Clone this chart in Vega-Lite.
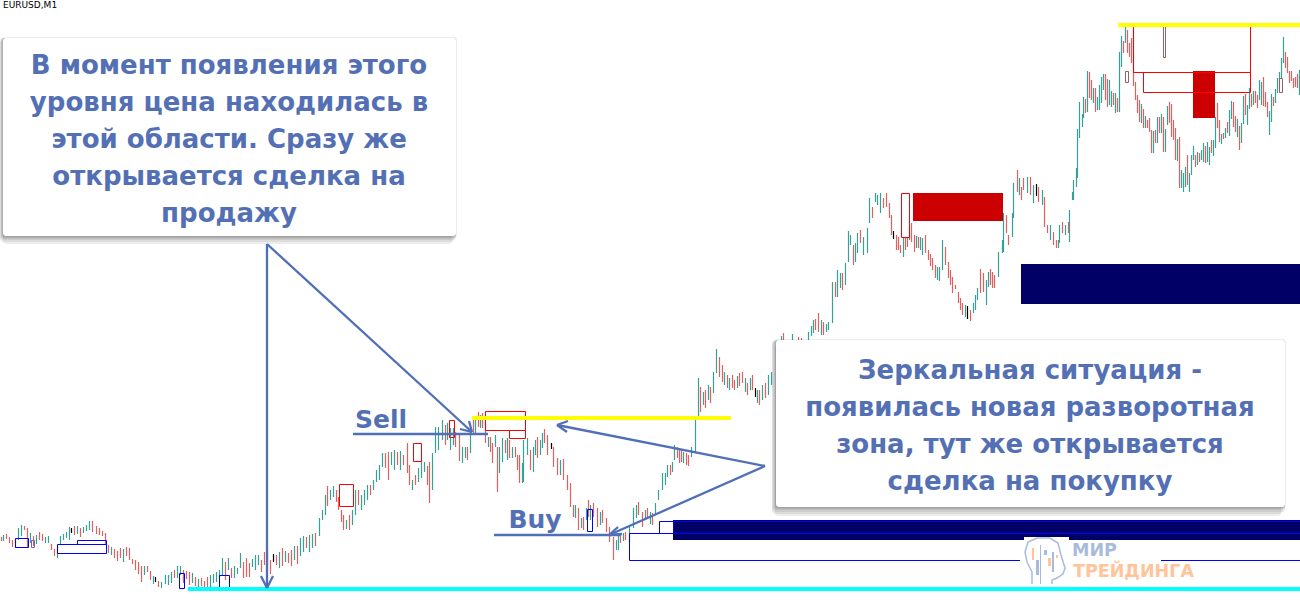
{"$schema":"https://vega.github.io/schema/vega-lite/v6.json","width":1300,"height":600,"padding":0,"autosize":{"type":"none"},"background":"white","view":{"stroke":null},"config":{"view":{"stroke":null}},
"resolve":{"scale":{"color":"independent","fill":"independent","stroke":"independent"}},
"datasets":{
"bars":[
{"x":1,"y":537,"y2":541,"d":"d"},{"x":3,"y":535,"y2":541,"d":"u"},{"x":6,"y":534,"y2":539,"d":"d"},{"x":9,"y":537,"y2":543,"d":"d"},{"x":12,"y":540,"y2":547,"d":"d"},{"x":15,"y":539,"y2":548,"d":"u"},{"x":18,"y":528,"y2":540,"d":"u"},{"x":21,"y":525,"y2":536,"d":"u"},{"x":24,"y":526,"y2":530,"d":"d"},{"x":27,"y":528,"y2":547,"d":"d"},{"x":30,"y":533,"y2":543,"d":"u"},{"x":33,"y":536,"y2":546,"d":"d"},{"x":36,"y":535,"y2":544,"d":"u"},{"x":39,"y":532,"y2":540,"d":"d"},{"x":42,"y":534,"y2":541,"d":"d"},{"x":45,"y":537,"y2":543,"d":"u"},{"x":48,"y":536,"y2":543,"d":"u"},{"x":51,"y":544,"y2":550,"d":"d"},{"x":54,"y":549,"y2":556,"d":"d"},{"x":57,"y":545,"y2":558,"d":"u"},{"x":60,"y":536,"y2":545,"d":"u"},{"x":63,"y":534,"y2":540,"d":"u"},{"x":66,"y":532,"y2":538,"d":"u"},{"x":69,"y":527,"y2":540,"d":"u"},{"x":71,"y":528,"y2":533,"d":"b"},{"x":74,"y":526,"y2":535,"d":"d"},{"x":77,"y":526,"y2":534,"d":"u"},{"x":80,"y":528,"y2":537,"d":"d"},{"x":83,"y":527,"y2":533,"d":"u"},{"x":86,"y":525,"y2":531,"d":"u"},{"x":89,"y":521,"y2":530,"d":"u"},{"x":92,"y":521,"y2":532,"d":"d"},{"x":96,"y":526,"y2":534,"d":"d"},{"x":99,"y":528,"y2":535,"d":"d"},{"x":102,"y":531,"y2":536,"d":"d"},{"x":105,"y":533,"y2":545,"d":"d"},{"x":108,"y":545,"y2":553,"d":"d"},{"x":111,"y":547,"y2":555,"d":"u"},{"x":114,"y":549,"y2":558,"d":"d"},{"x":117,"y":551,"y2":561,"d":"d"},{"x":120,"y":548,"y2":558,"d":"d"},{"x":123,"y":549,"y2":562,"d":"u"},{"x":126,"y":547,"y2":556,"d":"d"},{"x":129,"y":548,"y2":560,"d":"d"},{"x":132,"y":559,"y2":564,"d":"d"},{"x":135,"y":560,"y2":570,"d":"d"},{"x":138,"y":562,"y2":574,"d":"d"},{"x":141,"y":566,"y2":582,"d":"d"},{"x":144,"y":566,"y2":575,"d":"u"},{"x":147,"y":566,"y2":572,"d":"d"},{"x":150,"y":571,"y2":580,"d":"d"},{"x":153,"y":576,"y2":584,"d":"u"},{"x":155,"y":577,"y2":582,"d":"b"},{"x":158,"y":581,"y2":587,"d":"d"},{"x":161,"y":582,"y2":588,"d":"u"},{"x":165,"y":575,"y2":584,"d":"u"},{"x":168,"y":575,"y2":585,"d":"u"},{"x":171,"y":572,"y2":583,"d":"u"},{"x":174,"y":570,"y2":578,"d":"d"},{"x":177,"y":566,"y2":578,"d":"u"},{"x":180,"y":566,"y2":575,"d":"u"},{"x":183,"y":570,"y2":583,"d":"d"},{"x":186,"y":571,"y2":579,"d":"d"},{"x":189,"y":572,"y2":585,"d":"d"},{"x":192,"y":573,"y2":583,"d":"u"},{"x":195,"y":577,"y2":586,"d":"d"},{"x":198,"y":579,"y2":587,"d":"u"},{"x":201,"y":578,"y2":586,"d":"d"},{"x":204,"y":581,"y2":588,"d":"d"},{"x":207,"y":577,"y2":590,"d":"d"},{"x":210,"y":575,"y2":590,"d":"u"},{"x":213,"y":574,"y2":583,"d":"u"},{"x":216,"y":572,"y2":582,"d":"u"},{"x":219,"y":570,"y2":578,"d":"u"},{"x":222,"y":558,"y2":575,"d":"u"},{"x":225,"y":562,"y2":580,"d":"d"},{"x":228,"y":558,"y2":570,"d":"u"},{"x":231,"y":568,"y2":578,"d":"d"},{"x":234,"y":566,"y2":578,"d":"u"},{"x":237,"y":568,"y2":574,"d":"u"},{"x":240,"y":553,"y2":568,"d":"u"},{"x":243,"y":562,"y2":578,"d":"d"},{"x":246,"y":558,"y2":577,"d":"d"},{"x":249,"y":563,"y2":577,"d":"d"},{"x":252,"y":559,"y2":567,"d":"u"},{"x":255,"y":555,"y2":570,"d":"u"},{"x":258,"y":555,"y2":565,"d":"u"},{"x":261,"y":560,"y2":572,"d":"d"},{"x":264,"y":552,"y2":565,"d":"d"},{"x":267,"y":551,"y2":565,"d":"u"},{"x":270,"y":560,"y2":574,"d":"d"},{"x":273,"y":554,"y2":562,"d":"b"},{"x":276,"y":555,"y2":565,"d":"d"},{"x":279,"y":552,"y2":568,"d":"u"},{"x":282,"y":548,"y2":566,"d":"d"},{"x":285,"y":551,"y2":562,"d":"u"},{"x":288,"y":553,"y2":563,"d":"d"},{"x":291,"y":550,"y2":566,"d":"d"},{"x":294,"y":546,"y2":560,"d":"u"},{"x":297,"y":546,"y2":564,"d":"d"},{"x":300,"y":538,"y2":556,"d":"u"},{"x":303,"y":536,"y2":552,"d":"u"},{"x":306,"y":537,"y2":548,"d":"d"},{"x":309,"y":535,"y2":552,"d":"u"},{"x":312,"y":534,"y2":548,"d":"u"},{"x":315,"y":533,"y2":546,"d":"d"},{"x":319,"y":518,"y2":536,"d":"u"},{"x":322,"y":510,"y2":520,"d":"u"},{"x":325,"y":495,"y2":515,"d":"u"},{"x":327,"y":486,"y2":506,"d":"d"},{"x":330,"y":490,"y2":500,"d":"u"},{"x":333,"y":486,"y2":497,"d":"u"},{"x":336,"y":490,"y2":502,"d":"d"},{"x":338,"y":497,"y2":510,"d":"d"},{"x":341,"y":510,"y2":522,"d":"d"},{"x":343,"y":515,"y2":530,"d":"d"},{"x":346,"y":520,"y2":529,"d":"u"},{"x":349,"y":515,"y2":530,"d":"d"},{"x":352,"y":510,"y2":525,"d":"u"},{"x":355,"y":490,"y2":515,"d":"u"},{"x":358,"y":490,"y2":505,"d":"d"},{"x":361,"y":495,"y2":510,"d":"u"},{"x":364,"y":490,"y2":505,"d":"u"},{"x":367,"y":485,"y2":500,"d":"u"},{"x":370,"y":485,"y2":495,"d":"d"},{"x":373,"y":480,"y2":490,"d":"u"},{"x":376,"y":470,"y2":482,"d":"u"},{"x":379,"y":465,"y2":480,"d":"u"},{"x":382,"y":453,"y2":467,"d":"u"},{"x":385,"y":453,"y2":468,"d":"d"},{"x":388,"y":452,"y2":480,"d":"d"},{"x":391,"y":452,"y2":465,"d":"u"},{"x":394,"y":450,"y2":470,"d":"u"},{"x":397,"y":452,"y2":465,"d":"d"},{"x":400,"y":451,"y2":470,"d":"u"},{"x":403,"y":455,"y2":465,"d":"d"},{"x":407,"y":443,"y2":473,"d":"d"},{"x":409,"y":465,"y2":485,"d":"d"},{"x":412,"y":480,"y2":490,"d":"u"},{"x":415,"y":475,"y2":485,"d":"d"},{"x":418,"y":468,"y2":482,"d":"u"},{"x":421,"y":460,"y2":478,"d":"u"},{"x":424,"y":462,"y2":472,"d":"u"},{"x":427,"y":466,"y2":485,"d":"d"},{"x":429,"y":462,"y2":503,"d":"d"},{"x":432,"y":453,"y2":490,"d":"u"},{"x":435,"y":427,"y2":453,"d":"u"},{"x":438,"y":427,"y2":450,"d":"u"},{"x":442,"y":420,"y2":440,"d":"u"},{"x":445,"y":425,"y2":445,"d":"d"},{"x":447,"y":423,"y2":440,"d":"u"},{"x":450,"y":428,"y2":450,"d":"u"},{"x":453,"y":428,"y2":445,"d":"u"},{"x":455,"y":432,"y2":447,"d":"d"},{"x":459,"y":433,"y2":461,"d":"d"},{"x":462,"y":447,"y2":463,"d":"u"},{"x":465,"y":447,"y2":458,"d":"u"},{"x":467,"y":447,"y2":460,"d":"d"},{"x":470,"y":430,"y2":453,"d":"u"},{"x":473,"y":417,"y2":433,"d":"d"},{"x":475,"y":420,"y2":433,"d":"u"},{"x":478,"y":412,"y2":427,"d":"d"},{"x":480,"y":415,"y2":428,"d":"u"},{"x":482,"y":413,"y2":428,"d":"d"},{"x":485,"y":417,"y2":443,"d":"d"},{"x":488,"y":437,"y2":447,"d":"u"},{"x":490,"y":437,"y2":452,"d":"d"},{"x":492,"y":443,"y2":463,"d":"d"},{"x":495,"y":435,"y2":447,"d":"u"},{"x":497,"y":447,"y2":492,"d":"d"},{"x":499,"y":447,"y2":473,"d":"u"},{"x":502,"y":438,"y2":462,"d":"u"},{"x":505,"y":440,"y2":453,"d":"d"},{"x":507,"y":438,"y2":460,"d":"u"},{"x":509,"y":440,"y2":458,"d":"d"},{"x":512,"y":447,"y2":458,"d":"u"},{"x":515,"y":447,"y2":457,"d":"d"},{"x":517,"y":455,"y2":470,"d":"d"},{"x":519,"y":455,"y2":483,"d":"d"},{"x":522,"y":463,"y2":483,"d":"u"},{"x":523,"y":440,"y2":482,"d":"u"},{"x":527,"y":438,"y2":455,"d":"u"},{"x":530,"y":450,"y2":470,"d":"d"},{"x":533,"y":447,"y2":472,"d":"u"},{"x":535,"y":440,"y2":455,"d":"u"},{"x":537,"y":437,"y2":458,"d":"d"},{"x":540,"y":440,"y2":455,"d":"u"},{"x":542,"y":433,"y2":448,"d":"u"},{"x":544,"y":429,"y2":443,"d":"d"},{"x":547,"y":435,"y2":455,"d":"d"},{"x":551,"y":443,"y2":449,"d":"b"},{"x":553,"y":447,"y2":467,"d":"d"},{"x":557,"y":458,"y2":475,"d":"d"},{"x":560,"y":460,"y2":475,"d":"u"},{"x":563,"y":459,"y2":480,"d":"d"},{"x":567,"y":475,"y2":490,"d":"d"},{"x":570,"y":483,"y2":507,"d":"d"},{"x":573,"y":505,"y2":517,"d":"d"},{"x":575,"y":505,"y2":518,"d":"u"},{"x":578,"y":508,"y2":530,"d":"d"},{"x":581,"y":518,"y2":528,"d":"u"},{"x":583,"y":517,"y2":530,"d":"d"},{"x":586,"y":508,"y2":520,"d":"u"},{"x":588,"y":500,"y2":517,"d":"d"},{"x":590,"y":505,"y2":520,"d":"u"},{"x":593,"y":503,"y2":517,"d":"d"},{"x":597,"y":508,"y2":527,"d":"d"},{"x":600,"y":512,"y2":525,"d":"u"},{"x":602,"y":510,"y2":523,"d":"d"},{"x":606,"y":518,"y2":532,"d":"d"},{"x":609,"y":527,"y2":542,"d":"d"},{"x":613,"y":537,"y2":560,"d":"d"},{"x":616,"y":540,"y2":550,"d":"u"},{"x":618,"y":535,"y2":550,"d":"u"},{"x":620,"y":533,"y2":543,"d":"d"},{"x":623,"y":533,"y2":541,"d":"u"},{"x":625,"y":532,"y2":540,"d":"d"},{"x":629,"y":527,"y2":542,"d":"u"},{"x":633,"y":508,"y2":528,"d":"u"},{"x":636,"y":505,"y2":518,"d":"u"},{"x":638,"y":502,"y2":515,"d":"d"},{"x":642,"y":512,"y2":527,"d":"d"},{"x":645,"y":510,"y2":520,"d":"u"},{"x":647,"y":508,"y2":517,"d":"d"},{"x":650,"y":512,"y2":524,"d":"u"},{"x":652,"y":513,"y2":525,"d":"d"},{"x":655,"y":503,"y2":515,"d":"u"},{"x":658,"y":490,"y2":500,"d":"u"},{"x":662,"y":473,"y2":490,"d":"u"},{"x":665,"y":473,"y2":485,"d":"u"},{"x":667,"y":465,"y2":477,"d":"u"},{"x":670,"y":465,"y2":475,"d":"d"},{"x":672,"y":462,"y2":472,"d":"u"},{"x":674,"y":445,"y2":460,"d":"u"},{"x":677,"y":447,"y2":458,"d":"d"},{"x":679,"y":449,"y2":463,"d":"d"},{"x":681,"y":450,"y2":462,"d":"d"},{"x":683,"y":452,"y2":463,"d":"u"},{"x":686,"y":453,"y2":465,"d":"d"},{"x":688,"y":455,"y2":466,"d":"d"},{"x":691,"y":447,"y2":457,"d":"u"},{"x":695,"y":420,"y2":452,"d":"u"},{"x":698,"y":378,"y2":420,"d":"u"},{"x":700,"y":387,"y2":412,"d":"d"},{"x":703,"y":392,"y2":405,"d":"u"},{"x":705,"y":390,"y2":408,"d":"d"},{"x":708,"y":385,"y2":400,"d":"u"},{"x":710,"y":387,"y2":403,"d":"d"},{"x":713,"y":372,"y2":393,"d":"u"},{"x":716,"y":349,"y2":373,"d":"u"},{"x":719,"y":357,"y2":377,"d":"d"},{"x":722,"y":365,"y2":382,"d":"d"},{"x":724,"y":372,"y2":385,"d":"u"},{"x":727,"y":375,"y2":388,"d":"d"},{"x":729,"y":378,"y2":390,"d":"u"},{"x":732,"y":375,"y2":388,"d":"d"},{"x":734,"y":380,"y2":390,"d":"d"},{"x":737,"y":376,"y2":388,"d":"u"},{"x":739,"y":373,"y2":386,"d":"d"},{"x":742,"y":372,"y2":383,"d":"d"},{"x":745,"y":378,"y2":392,"d":"u"},{"x":747,"y":383,"y2":395,"d":"d"},{"x":750,"y":378,"y2":390,"d":"u"},{"x":752,"y":375,"y2":390,"d":"d"},{"x":755,"y":388,"y2":397,"d":"b"},{"x":757,"y":390,"y2":403,"d":"u"},{"x":759,"y":390,"y2":405,"d":"d"},{"x":762,"y":385,"y2":400,"d":"u"},{"x":765,"y":383,"y2":398,"d":"d"},{"x":768,"y":375,"y2":395,"d":"u"},{"x":771,"y":372,"y2":385,"d":"u"},{"x":781,"y":336,"y2":342,"d":"u"},{"x":783,"y":333,"y2":342,"d":"d"},{"x":792,"y":334,"y2":342,"d":"u"},{"x":798,"y":337,"y2":342,"d":"d"},{"x":801,"y":338,"y2":342,"d":"d"},{"x":808,"y":332,"y2":340,"d":"u"},{"x":811,"y":326,"y2":336,"d":"u"},{"x":813,"y":320,"y2":333,"d":"u"},{"x":815,"y":319,"y2":330,"d":"d"},{"x":818,"y":313,"y2":332,"d":"d"},{"x":821,"y":320,"y2":335,"d":"u"},{"x":823,"y":322,"y2":335,"d":"d"},{"x":826,"y":324,"y2":332,"d":"u"},{"x":828,"y":322,"y2":330,"d":"u"},{"x":832,"y":282,"y2":323,"d":"u"},{"x":835,"y":282,"y2":297,"d":"d"},{"x":837,"y":270,"y2":297,"d":"u"},{"x":840,"y":273,"y2":288,"d":"u"},{"x":842,"y":273,"y2":290,"d":"d"},{"x":845,"y":263,"y2":285,"d":"u"},{"x":848,"y":231,"y2":262,"d":"u"},{"x":850,"y":235,"y2":245,"d":"u"},{"x":853,"y":245,"y2":265,"d":"d"},{"x":855,"y":243,"y2":262,"d":"u"},{"x":857,"y":233,"y2":253,"d":"u"},{"x":860,"y":230,"y2":243,"d":"d"},{"x":863,"y":237,"y2":255,"d":"u"},{"x":867,"y":228,"y2":253,"d":"u"},{"x":869,"y":198,"y2":223,"d":"u"},{"x":872,"y":207,"y2":218,"d":"d"},{"x":875,"y":193,"y2":202,"d":"u"},{"x":877,"y":195,"y2":205,"d":"u"},{"x":880,"y":193,"y2":213,"d":"u"},{"x":883,"y":198,"y2":208,"d":"d"},{"x":886,"y":193,"y2":207,"d":"d"},{"x":889,"y":203,"y2":218,"d":"d"},{"x":891,"y":215,"y2":235,"d":"d"},{"x":893,"y":231,"y2":239,"d":"b"},{"x":896,"y":235,"y2":250,"d":"d"},{"x":898,"y":237,"y2":250,"d":"d"},{"x":900,"y":245,"y2":253,"d":"d"},{"x":903,"y":237,"y2":257,"d":"u"},{"x":905,"y":237,"y2":250,"d":"d"},{"x":907,"y":237,"y2":247,"d":"d"},{"x":909,"y":225,"y2":240,"d":"u"},{"x":911,"y":223,"y2":242,"d":"d"},{"x":914,"y":235,"y2":252,"d":"d"},{"x":916,"y":236,"y2":248,"d":"u"},{"x":918,"y":237,"y2":248,"d":"d"},{"x":920,"y":237,"y2":250,"d":"u"},{"x":922,"y":238,"y2":255,"d":"u"},{"x":925,"y":235,"y2":253,"d":"d"},{"x":928,"y":250,"y2":260,"d":"d"},{"x":930,"y":254,"y2":266,"d":"d"},{"x":932,"y":258,"y2":270,"d":"d"},{"x":935,"y":265,"y2":278,"d":"d"},{"x":937,"y":267,"y2":280,"d":"u"},{"x":939,"y":267,"y2":281,"d":"u"},{"x":942,"y":240,"y2":270,"d":"u"},{"x":945,"y":247,"y2":265,"d":"d"},{"x":948,"y":262,"y2":278,"d":"d"},{"x":950,"y":270,"y2":285,"d":"d"},{"x":952,"y":277,"y2":293,"d":"d"},{"x":955,"y":285,"y2":289,"d":"d"},{"x":958,"y":292,"y2":303,"d":"d"},{"x":960,"y":298,"y2":310,"d":"d"},{"x":962,"y":303,"y2":315,"d":"d"},{"x":965,"y":305,"y2":317,"d":"u"},{"x":967,"y":306,"y2":319,"d":"b"},{"x":970,"y":310,"y2":321,"d":"d"},{"x":973,"y":303,"y2":313,"d":"u"},{"x":975,"y":295,"y2":310,"d":"u"},{"x":977,"y":288,"y2":300,"d":"u"},{"x":980,"y":269,"y2":293,"d":"d"},{"x":983,"y":273,"y2":292,"d":"d"},{"x":986,"y":280,"y2":305,"d":"u"},{"x":988,"y":272,"y2":287,"d":"u"},{"x":990,"y":269,"y2":285,"d":"d"},{"x":992,"y":272,"y2":288,"d":"d"},{"x":994,"y":275,"y2":288,"d":"d"},{"x":998,"y":252,"y2":277,"d":"u"},{"x":1002,"y":240,"y2":253,"d":"u"},{"x":1003,"y":213,"y2":252,"d":"u"},{"x":1006,"y":215,"y2":233,"d":"d"},{"x":1008,"y":235,"y2":245,"d":"d"},{"x":1012,"y":213,"y2":237,"d":"u"},{"x":1013,"y":183,"y2":218,"d":"u"},{"x":1017,"y":170,"y2":192,"d":"d"},{"x":1019,"y":178,"y2":195,"d":"u"},{"x":1021,"y":187,"y2":200,"d":"d"},{"x":1023,"y":178,"y2":190,"d":"d"},{"x":1027,"y":177,"y2":193,"d":"u"},{"x":1030,"y":177,"y2":195,"d":"d"},{"x":1033,"y":185,"y2":203,"d":"u"},{"x":1036,"y":184,"y2":196,"d":"b"},{"x":1038,"y":187,"y2":202,"d":"d"},{"x":1042,"y":190,"y2":205,"d":"u"},{"x":1044,"y":197,"y2":227,"d":"d"},{"x":1047,"y":225,"y2":233,"d":"d"},{"x":1050,"y":225,"y2":240,"d":"u"},{"x":1053,"y":232,"y2":245,"d":"d"},{"x":1056,"y":240,"y2":248,"d":"d"},{"x":1058,"y":240,"y2":248,"d":"u"},{"x":1059,"y":225,"y2":243,"d":"u"},{"x":1062,"y":222,"y2":233,"d":"d"},{"x":1065,"y":225,"y2":235,"d":"u"},{"x":1068,"y":222,"y2":233,"d":"d"},{"x":1069,"y":210,"y2":242,"d":"u"},{"x":1072,"y":192,"y2":200,"d":"u"},{"x":1073,"y":180,"y2":200,"d":"u"},{"x":1076,"y":168,"y2":187,"d":"u"},{"x":1077,"y":129,"y2":178,"d":"u"},{"x":1079,"y":102,"y2":138,"d":"u"},{"x":1082,"y":114,"y2":127,"d":"u"},{"x":1083,"y":97,"y2":118,"d":"u"},{"x":1085,"y":99,"y2":113,"d":"d"},{"x":1087,"y":71,"y2":112,"d":"u"},{"x":1089,"y":72,"y2":98,"d":"d"},{"x":1091,"y":80,"y2":100,"d":"d"},{"x":1093,"y":88,"y2":103,"d":"u"},{"x":1095,"y":88,"y2":112,"d":"d"},{"x":1097,"y":97,"y2":110,"d":"u"},{"x":1099,"y":85,"y2":110,"d":"u"},{"x":1101,"y":77,"y2":103,"d":"u"},{"x":1103,"y":74,"y2":90,"d":"u"},{"x":1105,"y":74,"y2":100,"d":"d"},{"x":1107,"y":79,"y2":107,"d":"d"},{"x":1109,"y":80,"y2":105,"d":"u"},{"x":1111,"y":91,"y2":107,"d":"u"},{"x":1113,"y":93,"y2":105,"d":"d"},{"x":1115,"y":93,"y2":113,"d":"u"},{"x":1117,"y":98,"y2":112,"d":"d"},{"x":1119,"y":52,"y2":112,"d":"u"},{"x":1121,"y":36,"y2":67,"d":"u"},{"x":1123,"y":41,"y2":53,"d":"d"},{"x":1125,"y":25,"y2":43,"d":"u"},{"x":1127,"y":30,"y2":53,"d":"d"},{"x":1129,"y":43,"y2":57,"d":"d"},{"x":1131,"y":38,"y2":63,"d":"d"},{"x":1133,"y":27,"y2":86,"d":"d"},{"x":1135,"y":82,"y2":100,"d":"d"},{"x":1137,"y":95,"y2":113,"d":"d"},{"x":1139,"y":100,"y2":122,"d":"d"},{"x":1141,"y":104,"y2":123,"d":"u"},{"x":1143,"y":109,"y2":128,"d":"d"},{"x":1145,"y":116,"y2":128,"d":"u"},{"x":1147,"y":120,"y2":128,"d":"d"},{"x":1149,"y":118,"y2":132,"d":"d"},{"x":1151,"y":130,"y2":153,"d":"d"},{"x":1153,"y":131,"y2":153,"d":"u"},{"x":1155,"y":130,"y2":143,"d":"d"},{"x":1157,"y":117,"y2":143,"d":"u"},{"x":1159,"y":117,"y2":133,"d":"d"},{"x":1161,"y":114,"y2":133,"d":"u"},{"x":1163,"y":117,"y2":152,"d":"d"},{"x":1165,"y":129,"y2":152,"d":"u"},{"x":1167,"y":106,"y2":125,"d":"u"},{"x":1169,"y":102,"y2":123,"d":"d"},{"x":1171,"y":104,"y2":137,"d":"d"},{"x":1173,"y":120,"y2":140,"d":"d"},{"x":1175,"y":128,"y2":160,"d":"d"},{"x":1177,"y":139,"y2":161,"d":"u"},{"x":1179,"y":137,"y2":188,"d":"d"},{"x":1181,"y":170,"y2":188,"d":"u"},{"x":1183,"y":173,"y2":192,"d":"u"},{"x":1185,"y":167,"y2":187,"d":"u"},{"x":1187,"y":155,"y2":185,"d":"d"},{"x":1189,"y":173,"y2":192,"d":"u"},{"x":1191,"y":155,"y2":175,"d":"u"},{"x":1193,"y":146,"y2":160,"d":"u"},{"x":1195,"y":155,"y2":167,"d":"d"},{"x":1197,"y":152,"y2":165,"d":"u"},{"x":1199,"y":153,"y2":162,"d":"d"},{"x":1201,"y":150,"y2":160,"d":"u"},{"x":1203,"y":143,"y2":162,"d":"u"},{"x":1205,"y":146,"y2":163,"d":"d"},{"x":1207,"y":142,"y2":162,"d":"u"},{"x":1209,"y":147,"y2":165,"d":"u"},{"x":1211,"y":140,"y2":153,"d":"d"},{"x":1213,"y":140,"y2":156,"d":"u"},{"x":1215,"y":117,"y2":148,"d":"u"},{"x":1217,"y":103,"y2":128,"d":"d"},{"x":1219,"y":120,"y2":142,"d":"d"},{"x":1221,"y":134,"y2":144,"d":"u"},{"x":1223,"y":133,"y2":139,"d":"d"},{"x":1225,"y":128,"y2":138,"d":"u"},{"x":1227,"y":122,"y2":133,"d":"d"},{"x":1229,"y":110,"y2":136,"d":"u"},{"x":1231,"y":101,"y2":119,"d":"u"},{"x":1233,"y":102,"y2":127,"d":"d"},{"x":1235,"y":116,"y2":132,"d":"d"},{"x":1237,"y":119,"y2":137,"d":"u"},{"x":1239,"y":126,"y2":150,"d":"d"},{"x":1241,"y":123,"y2":143,"d":"u"},{"x":1243,"y":96,"y2":124,"d":"u"},{"x":1245,"y":94,"y2":115,"d":"d"},{"x":1247,"y":105,"y2":125,"d":"u"},{"x":1249,"y":88,"y2":109,"d":"u"},{"x":1251,"y":94,"y2":107,"d":"d"},{"x":1253,"y":91,"y2":105,"d":"u"},{"x":1255,"y":91,"y2":103,"d":"d"},{"x":1257,"y":95,"y2":108,"d":"d"},{"x":1259,"y":80,"y2":100,"d":"u"},{"x":1261,"y":82,"y2":105,"d":"u"},{"x":1263,"y":77,"y2":106,"d":"d"},{"x":1265,"y":92,"y2":107,"d":"d"},{"x":1267,"y":102,"y2":117,"d":"d"},{"x":1269,"y":111,"y2":135,"d":"u"},{"x":1271,"y":94,"y2":122,"d":"u"},{"x":1273,"y":97,"y2":106,"d":"d"},{"x":1275,"y":89,"y2":103,"d":"u"},{"x":1277,"y":78,"y2":93,"d":"u"},{"x":1279,"y":72,"y2":87,"d":"u"},{"x":1281,"y":58,"y2":78,"d":"u"},{"x":1283,"y":37,"y2":63,"d":"u"},{"x":1285,"y":52,"y2":68,"d":"d"},{"x":1287,"y":57,"y2":73,"d":"d"},{"x":1289,"y":71,"y2":83,"d":"d"},{"x":1291,"y":71,"y2":81,"d":"d"},{"x":1293,"y":78,"y2":88,"d":"d"},{"x":1295,"y":77,"y2":87,"d":"d"},{"x":1297,"y":74,"y2":88,"d":"d"},{"x":1299,"y":70,"y2":95,"d":"u"}
],
"zones":[
{"x":15,"x2":28,"y":538,"y2":547,"c":"blue"},{"x":31,"x2":34,"y":540,"y2":547,"c":"grey-blue"},{"x":57,"x2":106,"y":544,"y2":553,"c":"blue"},{"x":77,"x2":106,"y":540,"y2":544,"c":"blue"},{"x":179,"x2":184,"y":573,"y2":588,"c":"blue"},{"x":219,"x2":229,"y":575,"y2":587,"c":"blue"},{"x":587,"x2":592,"y":509,"y2":531,"c":"blue"},{"x":629,"x2":1301,"y":533,"y2":560,"c":"blue"},{"x":659,"x2":673,"y":521,"y2":533,"c":"blue"},
{"x":339,"x2":353,"y":484,"y2":506,"c":"red"},{"x":413,"x2":421,"y":443,"y2":461,"c":"red"},{"x":449,"x2":454,"y":420,"y2":437,"c":"red"},{"x":485,"x2":525,"y":411,"y2":430,"c":"red"},{"x":509,"x2":525,"y":430,"y2":438,"c":"red"},{"x":901,"x2":909,"y":193,"y2":237,"c":"red"},{"x":1133,"x2":1250,"y":25,"y2":72,"c":"red"},{"x":1143,"x2":1250,"y":72,"y2":92,"c":"red"},
{"x":1163,"x2":1165,"y":25,"y2":57,"c":"brown"},{"x":1125,"x2":1128,"y":71,"y2":82,"c":"brown"},{"x":1279,"x2":1282,"y":78,"y2":92,"c":"brown"}
],
"fills":[
{"x":673,"x2":1300,"y":520,"y2":540,"c":"navy"},{"x":1021,"x2":1300,"y":264,"y2":304,"c":"navy"},{"x":913,"x2":1003,"y":193,"y2":221,"c":"dark red"},{"x":1193,"x2":1215,"y":71,"y2":118,"c":"dark red"}
],
"navyLines":[{"x":673,"x2":1300,"y":533},{"x":673,"x2":1300,"y":521}],
"levels":[{"x":472,"x2":731,"y":418,"c":"yellow"},{"x":1118,"x2":1300,"y":25,"c":"yellow"},{"x":188,"x2":1300,"y":589,"c":"cyan"}],
"cards":[{"x":3,"x2":456,"y":38,"y2":236},{"x":776,"x2":1285,"y":340,"y2":507}],
"shadows":[
{"x":2,"x2":457,"y":37,"y2":237},{"x":1,"x2":456,"y":38,"y2":238},{"x":1,"x2":456,"y":38,"y2":239},{"x":0,"x2":456,"y":38,"y2":240},{"x":0,"x2":454,"y":40,"y2":242},{"x":3,"x2":452,"y":42,"y2":244},
{"x":775,"x2":1286,"y":339,"y2":508},{"x":774,"x2":1285,"y":340,"y2":509},{"x":773,"x2":1285,"y":340,"y2":510},{"x":772,"x2":1285,"y":340,"y2":512},{"x":772,"x2":1283,"y":342,"y2":514},{"x":775,"x2":1281,"y":344,"y2":516}
],
"arrows":[
{"x":267,"y":244,"x2":267,"y2":588},{"x":261,"y":576,"x2":267,"y2":588},{"x":273,"y":576,"x2":267,"y2":588},
{"x":267,"y":244,"x2":472,"y2":432},{"x":460,"y":429,"x2":472,"y2":432},{"x":469,"y":421,"x2":472,"y2":432},
{"x":765,"y":466,"x2":557,"y2":425},{"x":568,"y":421,"x2":557,"y2":425},{"x":567,"y":432,"x2":557,"y2":425},
{"x":765,"y":466,"x2":609,"y2":535},{"x":618,"y":527,"x2":609,"y2":535},{"x":622,"y":534,"x2":609,"y2":535},
{"x":353,"y":434,"x2":488,"y2":434},{"x":494,"y":535,"x2":620,"y2":535}
],
"texts":[
{"x":229,"y":66,"t":"В момент появления этого"},{"x":229,"y":103,"t":"уровня цена находилась в"},{"x":229,"y":140,"t":"этой области. Сразу же"},{"x":229,"y":177,"t":"открывается сделка на"},{"x":229,"y":214,"t":"продажу"},
{"x":1030,"y":371,"t":"Зеркальная ситуация -"},{"x":1030,"y":408,"t":"появилась новая разворотная"},{"x":1030,"y":445,"t":"зона, тут же открывается"},{"x":1030,"y":482,"t":"сделка на покупку"}
],
"sideTexts":[{"x":381,"y":420,"t":"Sell"},{"x":535,"y":520,"t":"Buy"}],
"logoBack":[{"x":1020,"x2":1161,"y":541,"y2":587},{"x":1024,"x2":1069,"y":537,"y2":541}],
"logoHead":[{"x":1032,"y":584,"i":1},{"x":1032,"y":572,"i":2},{"x":1027,"y":562,"i":3},{"x":1025,"y":552,"i":4},{"x":1028,"y":542,"i":5},{"x":1037,"y":538,"i":6},{"x":1050,"y":538,"i":7},{"x":1058,"y":543,"i":8},{"x":1061,"y":555,"i":9},{"x":1065,"y":568,"i":10},{"x":1063,"y":574,"i":11},{"x":1057,"y":578,"i":12},{"x":1052,"y":580,"i":13},{"x":1052,"y":584,"i":14}],
"logoCandles":[{"x":1032,"x2":1034,"y":548,"y2":560,"c":"o"},{"x":1036,"x2":1039,"y":560,"y2":575,"c":"b"},{"x":1040,"x2":1041,"y":545,"y2":584,"c":"b"},{"x":1044,"x2":1047,"y":550,"y2":555,"c":"b"},{"x":1048,"x2":1051,"y":558,"y2":566,"c":"o"},{"x":1052,"x2":1054,"y":552,"y2":572,"c":"b"},{"x":1056,"x2":1058,"y":555,"y2":558,"c":"o"}],
"logoText":[{"x":1072,"y":556,"t":"МИР","c":"b"},{"x":1073,"y":577,"t":"ТРЕЙДИНГА","c":"o"}],
"title":[{"x":3,"y":5,"t":"EURUSD,M1"}]
},
"encoding":{"x":{"field":"x","type":"quantitative","scale":{"domain":[0,1300],"nice":false,"zero":false},"axis":null},"y":{"field":"y","type":"quantitative","scale":{"domain":[600,0],"nice":false,"zero":false},"axis":null}},
"layer":[
{"data":{"name":"bars"},"mark":{"type":"rule","strokeWidth":1.2,"xOffset":0.5},"encoding":{"y2":{"field":"y2"},"color":{"field":"d","type":"nominal","legend":null,"scale":{"domain":["u","d","b"],"range":["#36a195","#e0605f","#000000"]}}}},
{"data":{"name":"fills"},"mark":{"type":"rect"},"encoding":{"x2":{"field":"x2"},"y2":{"field":"y2"},"fill":{"field":"c","type":"nominal","legend":null,"scale":{"domain":["navy","dark red"],"range":["#000066","#cc0000"]}}}},
{"data":{"name":"zones"},"mark":{"type":"rect","fillOpacity":0,"strokeWidth":1,"xOffset":0.5,"x2Offset":0.5,"yOffset":0.5,"y2Offset":0.5},"encoding":{"x2":{"field":"x2"},"y2":{"field":"y2"},"stroke":{"field":"c","type":"nominal","legend":null,"scale":{"domain":["blue","grey-blue","red","brown"],"range":["#0000ff","#6a6aa8","#ff0000","#946464"]}}}},
{"data":{"name":"navyLines"},"mark":{"type":"rule","color":"#0000ff","strokeWidth":1,"yOffset":0.5},"encoding":{"x2":{"field":"x2"}}},
{"data":{"name":"levels"},"mark":{"type":"rule","strokeWidth":4},"encoding":{"x2":{"field":"x2"},"stroke":{"field":"c","type":"nominal","legend":null,"scale":{"domain":["yellow","cyan"],"range":["#ffff00","#00ffff"]}}}},
{"data":{"name":"logoBack"},"mark":{"type":"rect","fill":"#ffffff"},"encoding":{"x2":{"field":"x2"},"y2":{"field":"y2"}}},
{"data":{"name":"logoHead"},"mark":{"type":"line","color":"#a9bbdc","strokeWidth":1.5},"encoding":{"order":{"field":"i","type":"quantitative"}}},
{"data":{"name":"logoCandles"},"mark":{"type":"rect"},"encoding":{"x2":{"field":"x2"},"y2":{"field":"y2"},"fill":{"field":"c","type":"nominal","legend":null,"scale":{"domain":["b","o"],"range":["#a9bbdc","#ffc49a"]}}}},
{"data":{"name":"logoText"},"mark":{"type":"text","align":"left","baseline":"alphabetic","font":"DejaVu Sans","fontWeight":"bold","fontSize":17.5},"encoding":{"text":{"field":"t"},"color":{"field":"c","type":"nominal","legend":null,"scale":{"domain":["b","o"],"range":["#a9bbdc","#ffc49a"]}}}},
{"data":{"name":"shadows"},"mark":{"type":"rect","fill":"#000000","opacity":0.07,"cornerRadius":3},"encoding":{"x2":{"field":"x2"},"y2":{"field":"y2"}}},
{"data":{"name":"cards"},"mark":{"type":"rect","fill":"#ffffff","cornerRadius":3},"encoding":{"x2":{"field":"x2"},"y2":{"field":"y2"}}},
{"data":{"name":"arrows"},"mark":{"type":"rule","color":"#4f6fb8","strokeWidth":2.3},"encoding":{"x2":{"field":"x2"},"y2":{"field":"y2"}}},
{"data":{"name":"texts"},"mark":{"type":"text","align":"center","baseline":"middle","font":"DejaVu Sans","fontWeight":"bold","fontSize":26,"color":"#5470b5"},"encoding":{"text":{"field":"t"}}},
{"data":{"name":"sideTexts"},"mark":{"type":"text","align":"center","baseline":"middle","font":"DejaVu Sans","fontWeight":"bold","fontSize":25,"color":"#5470b5"},"encoding":{"text":{"field":"t"}}},
{"data":{"name":"title"},"mark":{"type":"text","align":"left","baseline":"middle","font":"DejaVu Sans","fontSize":9,"color":"#000000"},"encoding":{"text":{"field":"t"}}}
]}
